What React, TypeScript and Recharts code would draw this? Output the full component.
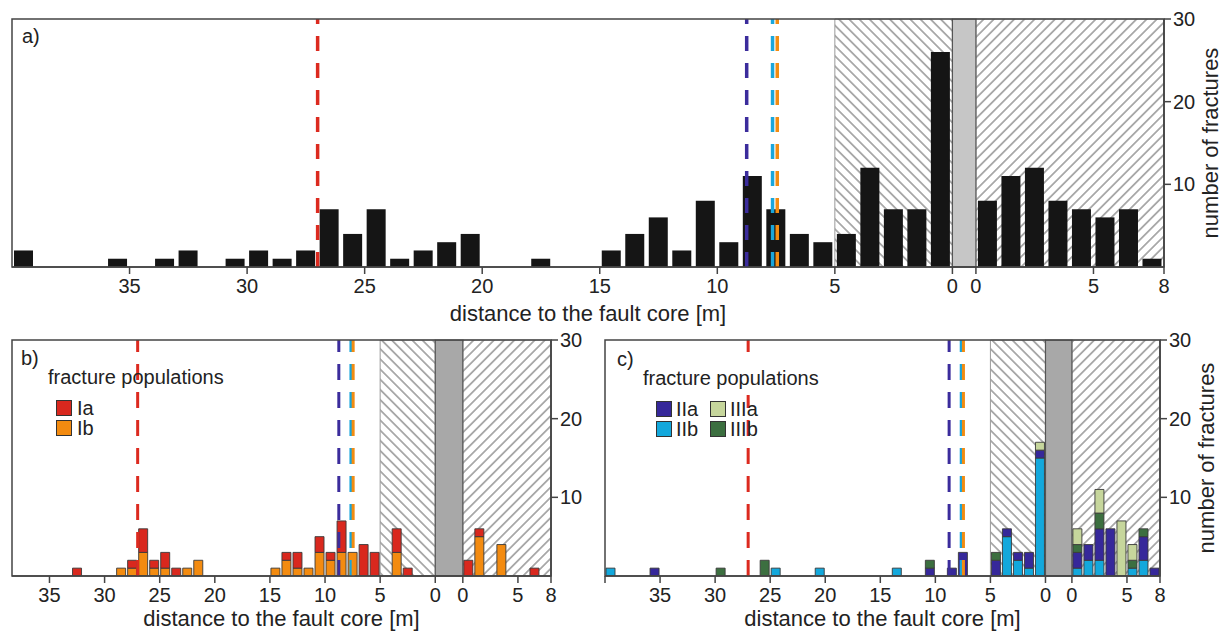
import React from 'react';
import { ComposedChart, Bar, XAxis, YAxis, ReferenceArea, ReferenceLine, Label } from 'recharts';

const FONT = '"Liberation Sans", Arial, Helvetica, sans-serif';

// counts per 1 m bin, index = distance of the bin's near edge to the core (m)
// left = side left of the fault core, right = side right of it
const allLeft = [26, 7, 7, 12, 4, 3, 4, 7, 11, 3, 8, 2, 6, 4, 2, 0, 0, 1, 0, 0, 4, 3, 2, 1, 7, 4, 7, 2, 1, 2, 1, 0, 2, 1, 0, 1, 0, 0, 0, 2];
const allRight = [8, 11, 12, 8, 7, 6, 7, 1];

// panel b: populations Ia / Ib
const iaLeft = [0, 0, 1, 3, 0, 3, 4, 0, 4, 1, 2, 0, 2, 1, 0, 0, 0, 0, 0, 0, 0, 0, 0, 1, 2, 1, 3, 1, 0, 0, 0, 0, 1, 0, 0, 0, 0, 0];
const ibLeft = [0, 0, 0, 3, 0, 0, 0, 3, 3, 2, 3, 1, 1, 2, 1, 0, 0, 0, 0, 0, 0, 2, 1, 0, 1, 1, 3, 1, 1, 0, 0, 0, 0, 0, 0, 0, 0, 0];
const iaRight = [2, 1, 0, 0, 0, 0, 1, 0];
const ibRight = [0, 5, 0, 4, 0, 0, 0, 0];

// panel c: populations IIa / IIb / IIIa / IIIb
const iibLeft = [15, 1, 2, 5, 0, 0, 0, 0, 0, 0, 0, 0, 0, 1, 0, 0, 0, 0, 0, 0, 1, 0, 0, 0, 1, 0, 0, 0, 0, 0, 0, 0, 0, 0, 0, 0, 0, 0, 0, 1];
const iiaLeft = [1, 2, 1, 1, 2, 0, 0, 3, 1, 0, 1, 0, 0, 0, 0, 0, 0, 0, 0, 0, 0, 0, 0, 0, 0, 0, 0, 0, 0, 0, 0, 0, 0, 0, 0, 1, 0, 0, 0, 0];
const iiibLeft = [0, 0, 0, 0, 1, 0, 0, 0, 0, 0, 1, 0, 0, 0, 0, 0, 0, 0, 0, 0, 0, 0, 0, 0, 0, 2, 0, 0, 0, 1, 0, 0, 0, 0, 0, 0, 0, 0, 0, 0];
const iiiaLeft = [1, 0, 0, 0, 0, 0, 0, 0, 0, 0, 0, 0, 0, 0, 0, 0, 0, 0, 0, 0, 0, 0, 0, 0, 0, 0, 0, 0, 0, 0, 0, 0, 0, 0, 0, 0, 0, 0, 0, 0];
const iibRight = [1, 2, 2, 0, 0, 1, 2, 0];
const iiaRight = [2, 2, 4, 6, 0, 0, 3, 1];
const iiibRight = [1, 0, 2, 0, 0, 1, 1, 0];
const iiiaRight = [2, 0, 3, 0, 7, 2, 0, 0];

// dashed reference distances (m, left of the core)
const dashLines = [
  { d: 27.0, color: '#dc2a1f' },
  { d: 8.75, color: '#3b2c9c' },
  { d: 7.65, color: '#19a6dc' },
  { d: 7.45, color: '#f28c12' },
];

const leftTicks = [35, 30, 25, 20, 15, 10, 5, 0];
const rightTicks = [0, 5, 8];
const yTicks = [10, 20, 30];

const buildRows = (series, core, nLeft) => {
  const rows = [];
  for (let d = nLeft - 1; d >= 0; d--) {
    const r = { u: -(d + 0.5) };
    series.forEach((s) => (r[s.key] = s.left[d] ?? 0));
    rows.push(r);
  }
  for (let d = 0; d < 8; d++) {
    const r = { u: core + d + 0.5 };
    series.forEach((s) => (r[s.key] = s.right[d] ?? 0));
    rows.push(r);
  }
  return rows;
};

const Panel = ({ cfg }) => {
  const rows = buildRows(cfg.series, cfg.core, cfg.nLeft);
  const ticks = [...(cfg.edgeTick ? [-40] : []), ...leftTicks.map((t) => -t), ...rightTicks.map((t) => cfg.core + t)];
  const fmt = (u) => {
    if (u === -40) return '';
    return u <= 0 ? String(Math.round(-u)) : String(Math.round(u - cfg.core));
  };
  const xMax = cfg.core + 8;

  const xTitle = (props) => {
    const vb = props.viewBox;
    if (!vb) return null;
    return (
      <text x={vb.x + vb.width / 2} y={vb.y + cfg.titleDy} textAnchor="middle" fontSize={22} fill="#222" fontFamily={FONT}>
        distance to the fault core [m]
      </text>
    );
  };
  const yTitle = (props) => {
    const vb = props.viewBox;
    if (!vb || !cfg.yTitle) return null;
    const x = vb.x + 46;
    const y = vb.y + vb.height / 2;
    return (
      <text x={x} y={y} transform={`rotate(-90 ${x} ${y})`} textAnchor="middle" dominantBaseline="central" fontSize={22} fill="#222" fontFamily={FONT}>
        number of fractures
      </text>
    );
  };

  return (
    <div style={{ position: 'absolute', left: cfg.left, top: cfg.top }}>
      <ComposedChart width={cfg.width} height={cfg.height} data={rows} margin={cfg.margin}>
        <defs>
          <pattern id={`${cfg.id}-bk`} patternUnits="userSpaceOnUse" width="7.2" height="7.2" patternTransform="rotate(-45)">
            <line x1="3.6" y1="0" x2="3.6" y2="7.2" stroke="#8f8f8f" strokeWidth="1.4" />
          </pattern>
          <pattern id={`${cfg.id}-fw`} patternUnits="userSpaceOnUse" width="7.2" height="7.2" patternTransform="rotate(45)">
            <line x1="3.6" y1="0" x2="3.6" y2="7.2" stroke="#8f8f8f" strokeWidth="1.4" />
          </pattern>
        </defs>
        <XAxis
          type="number"
          dataKey="u"
          domain={[cfg.xMin, xMax]}
          allowDataOverflow
          ticks={ticks}
          interval={0}
          tickFormatter={fmt}
          height={cfg.xAxisHeight}
          tickSize={7}
          tickMargin={5}
          tick={{ fontSize: 20, fill: '#222', fontFamily: FONT }}
          axisLine={{ stroke: '#444', strokeWidth: 1.5 }}
          tickLine={{ stroke: '#444', strokeWidth: 1.5 }}
        >
          <Label content={xTitle} />
        </XAxis>
        <YAxis
          orientation="right"
          type="number"
          domain={[0, 30]}
          allowDataOverflow
          ticks={yTicks}
          interval={0}
          width={cfg.yAxisWidth}
          tickSize={7}
          tickMargin={2}
          tick={{ fontSize: 20, fill: '#222', fontFamily: FONT }}
          axisLine={{ stroke: '#444', strokeWidth: 1.5 }}
          tickLine={{ stroke: '#444', strokeWidth: 1.5 }}
        >
          <Label content={yTitle} />
        </YAxis>
        <ReferenceArea x1={-5} x2={0} y1={0} y2={30} fill={`url(#${cfg.id}-bk)`} fillOpacity={1} stroke="#9a9a9a" strokeWidth={1} zIndex={0} />
        <ReferenceArea x1={cfg.core} x2={xMax} y1={0} y2={30} fill={`url(#${cfg.id}-fw)`} fillOpacity={1} stroke="#9a9a9a" strokeWidth={1} zIndex={0} />
        <ReferenceArea x1={0} x2={cfg.core} y1={0} y2={30} fill={cfg.coreFill} fillOpacity={1} stroke="#555" strokeWidth={1.2} zIndex={1} />
        {cfg.series.map((s) => (
          <Bar
            key={s.key}
            dataKey={s.key}
            name={s.name}
            stackId="n"
            fill={s.color}
            stroke={cfg.barStroke}
            strokeWidth={cfg.barStroke === 'none' ? 0 : 0.9}
            barSize={cfg.barSize}
            isAnimationActive={false}
            zIndex={300}
          />
        ))}
        {dashLines.map((l) => (
          <ReferenceLine
            key={l.color}
            x={-l.d}
            stroke={l.color}
            strokeWidth={cfg.dashWidth}
            strokeDasharray={cfg.dash}
            zIndex={600}
          />
        ))}
        <ReferenceArea x1={cfg.xMin} x2={xMax} y1={0} y2={30} fill="none" stroke="#444" strokeWidth={1.5} zIndex={700} />
      </ComposedChart>
    </div>
  );
};

const panelA = {
  id: 'pa', left: 0, top: 0, width: 1224, height: 330,
  margin: { top: 19, right: 0, bottom: 0, left: 12 },
  xAxisHeight: 63, yAxisWidth: 60, titleDy: 54, yTitle: true,
  xMin: -40, core: 1.0, nLeft: 40, edgeTick: false,
  coreFill: '#c6c6c6', barStroke: 'none', barSize: 19, dashWidth: 3.5, dash: '15 12',
  series: [{ key: 'n', name: 'all', color: '#151515', left: allLeft, right: allRight }],
};

const panelB = {
  id: 'pb', left: 0, top: 320, width: 600, height: 314,
  margin: { top: 20, right: 0, bottom: 0, left: 12 },
  xAxisHeight: 58, yAxisWidth: 49, titleDy: 50, yTitle: false,
  xMin: -38.4, core: 2.5, nLeft: 38, edgeTick: false,
  coreFill: '#a8a8a8', barStroke: '#3a3a3a', barSize: 9, dashWidth: 3, dash: '16 12',
  series: [
    { key: 'ib', name: 'Ib', color: '#f38b10', left: ibLeft, right: ibRight },
    { key: 'ia', name: 'Ia', color: '#d9281e', left: iaLeft, right: iaRight },
  ],
};

const panelC = {
  id: 'pc', left: 590, top: 320, width: 634, height: 314,
  margin: { top: 20, right: 0, bottom: 0, left: 15 },
  xAxisHeight: 58, yAxisWidth: 64, titleDy: 50, yTitle: true,
  xMin: -40, core: 2.4, nLeft: 40, edgeTick: true,
  coreFill: '#a8a8a8', barStroke: '#3a3a3a', barSize: 9, dashWidth: 3, dash: '16 12',
  series: [
    { key: 'iib', name: 'IIb', color: '#13a8dc', left: iibLeft, right: iibRight },
    { key: 'iia', name: 'IIa', color: '#36289a', left: iiaLeft, right: iiaRight },
    { key: 'iiib', name: 'IIIb', color: '#3c6f40', left: iiibLeft, right: iiibRight },
    { key: 'iiia', name: 'IIIa', color: '#c6d69c', left: iiiaLeft, right: iiiaRight },
  ],
};

const txt = { position: 'absolute', fontFamily: FONT, fontSize: 20, lineHeight: '18px', color: '#222', whiteSpace: 'nowrap' };
const sq = (color) => ({ position: 'absolute', width: 16, height: 16, boxSizing: 'border-box', border: '1.5px solid #333', background: color });

const LegendB = () => (
  <>
    <div style={{ ...txt, left: 48, top: 368 }}>fracture populations</div>
    <div style={{ ...sq('#d9281e'), left: 56, top: 400 }} />
    <div style={{ ...txt, left: 77, top: 399 }}>Ia</div>
    <div style={{ ...sq('#f38b10'), left: 56, top: 420 }} />
    <div style={{ ...txt, left: 77, top: 419 }}>Ib</div>
  </>
);

const LegendC = () => (
  <>
    <div style={{ ...txt, left: 643, top: 363, padding: '6px 0 8px', background: '#fff' }}>fracture populations</div>
    <div style={{ ...sq('#36289a'), left: 656, top: 401 }} />
    <div style={{ ...txt, left: 676, top: 400 }}>IIa</div>
    <div style={{ ...sq('#13a8dc'), left: 656, top: 421 }} />
    <div style={{ ...txt, left: 676, top: 420 }}>IIb</div>
    <div style={{ ...sq('#c6d69c'), left: 710, top: 401 }} />
    <div style={{ ...txt, left: 730, top: 400 }}>IIIa</div>
    <div style={{ ...sq('#3c6f40'), left: 710, top: 421 }} />
    <div style={{ ...txt, left: 730, top: 420 }}>IIIb</div>
  </>
);

export default function App() {
  return (
    <div style={{ position: 'absolute', left: 0, top: 0, width: 1224, height: 634, background: '#fff', overflow: 'hidden' }}>
      <Panel cfg={panelA} />
      <Panel cfg={panelB} />
      <Panel cfg={panelC} />
      <div style={{ ...txt, left: 22, top: 27 }}>a)</div>
      <div style={{ ...txt, left: 21, top: 349 }}>b)</div>
      <div style={{ ...txt, left: 617, top: 350 }}>c)</div>
      <LegendB />
      <LegendC />
    </div>
  );
}
